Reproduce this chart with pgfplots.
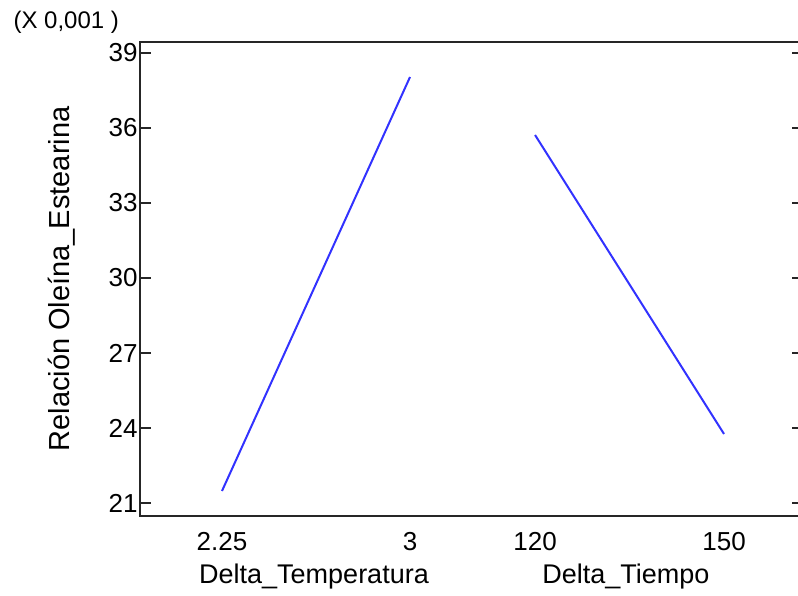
\documentclass[border=0pt]{standalone}
\usepackage{pgfplots}
\pgfplotsset{compat=1.18}
\usepackage{fontspec}
\setmainfont{Liberation Sans}
\definecolor{lineblue}{RGB}{50,50,255}
\begin{document}
\begin{tikzpicture}[x=1pt,y=1pt]
\useasboundingbox (0,0) rectangle (798,595);
\begin{axis}[
  at={(140pt,79pt)}, anchor=south west,
  scale only axis, width=663pt, height=474pt,
  xmin=-0.436, xmax=3.09, ymin=20.48, ymax=39.44,
  axis line style={line width=1.6pt, black!85},
  xtick={0,1,1.665,2.670},
  xticklabels={2.25,3,120,150},
  xtick style={draw=none},
  ytick={21,24,27,30,33,36,39},
  ytick style={line width=1.3pt, black!85},
  tick align=inside,
  major tick length=11pt,
  yticklabel style={font=\fontsize{26}{30}\selectfont, xshift=1pt},
  xticklabel style={font=\fontsize{26}{30}\selectfont, yshift=-13pt},
  /pgf/number format/assume math mode=true,
  ylabel={Relación Oleína\_Estearina},
  ylabel style={font=\fontsize{29}{33}\selectfont, at={(axis description cs:-0.1176,0.5)}, anchor=center},
  clip=false,
]
\addplot[lineblue, line width=2pt] coordinates {(0,21.48) (1,38.04)};
\addplot[lineblue, line width=2pt] coordinates {(1.665,35.72) (2.670,23.76)};
\node[font=\fontsize{27}{30}\selectfont] at (axis description cs:0.2624,-0.1287) {Delta\_Temperatura};
\node[font=\fontsize{27}{30}\selectfont] at (axis description cs:0.733,-0.1287) {Delta\_Tiempo};
\node[font=\fontsize{24}{27}\selectfont, anchor=west] at (axis description cs:-0.196,1.042) {(X 0,001 )};
\end{axis}
\end{tikzpicture}
\end{document}
